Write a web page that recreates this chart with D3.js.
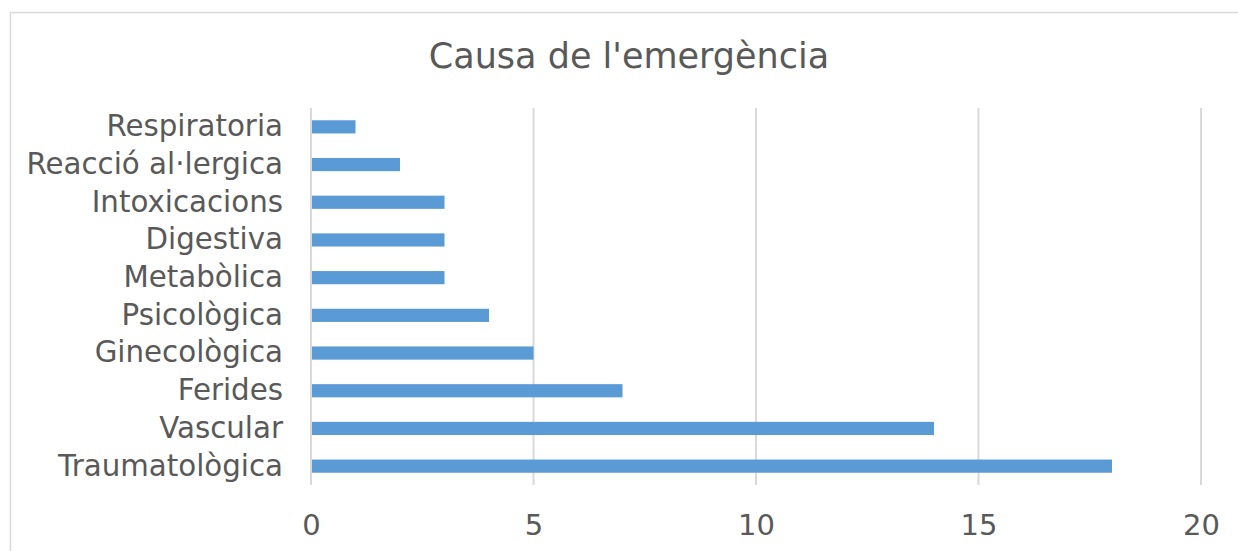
<!DOCTYPE html>
<html><head><meta charset="utf-8">
<script src="https://cdn.jsdelivr.net/npm/d3@7"></script>
<style>html,body{margin:0;padding:0;background:#fff;overflow:hidden}</style>
</head><body>
<script>
const categories = ["Respiratoria","Reacció al·lergica","Intoxicacions","Digestiva","Metabòlica","Psicològica","Ginecològica","Ferides","Vascular","Traumatològica"];
const values = [1,2,3,3,3,4,5,7,14,18];
const tickValues = [0,5,10,15,20];
const title = "Causa de l'emergència";

(function(){
const W = 1238, H = 551;
const font = "Verdana, 'DejaVu Sans', sans-serif";
const svg = d3.select("body").append("svg").attr("width", W).attr("height", H);

svg.append("rect").attr("x",10.5).attr("y",12.5).attr("width",1300).attr("height",600)
  .attr("fill","#fff").attr("stroke","#D9D9D9").attr("stroke-width",1.5);

svg.append("text").attr("x",629).attr("y",68).attr("text-anchor","middle")
  .attr("font-family",font).attr("font-size",35).attr("fill","#595959").text(title);

const pl = 311, pr = 1201, pt = 108, pb = 485;
const x = d3.scaleLinear().domain([0,20]).range([pl,pr]);
const y = d3.scaleBand().domain(categories).range([pt,pb]).paddingInner(0.65).paddingOuter(0.325);

svg.append("g").selectAll("line").data(tickValues.slice(1)).join("line")
  .attr("x1",d=>x(d)).attr("x2",d=>x(d)).attr("y1",pt).attr("y2",pb)
  .attr("stroke","#D9D9D9").attr("stroke-width",2);

svg.append("g").selectAll("rect").data(values).join("rect")
  .attr("x",x(0)).attr("y",(d,i)=>y(categories[i]))
  .attr("width",d=>x(d)-x(0)).attr("height",y.bandwidth())
  .attr("fill","#5B9BD5");

svg.append("line").attr("x1",x(0)).attr("x2",x(0)).attr("y1",pt).attr("y2",pb)
  .attr("stroke","#D9D9D9").attr("stroke-width",2);

const yAxis = d3.axisLeft(y).tickSize(0).tickPadding(28);
const gy = svg.append("g").attr("transform",`translate(${pl},0)`).call(yAxis);
gy.select(".domain").remove();
gy.selectAll("text").attr("font-family",font).attr("font-size",29.3).attr("fill","#595959");

const xAxis = d3.axisBottom(x).tickValues(tickValues).tickSize(0).tickPadding(0);
const gx = svg.append("g").attr("transform",`translate(0,${pb+29})`).call(xAxis);
gx.select(".domain").remove();
gx.selectAll("text").attr("font-family",font).attr("font-size",29).attr("fill","#595959");
})();
</script>
</body></html>
